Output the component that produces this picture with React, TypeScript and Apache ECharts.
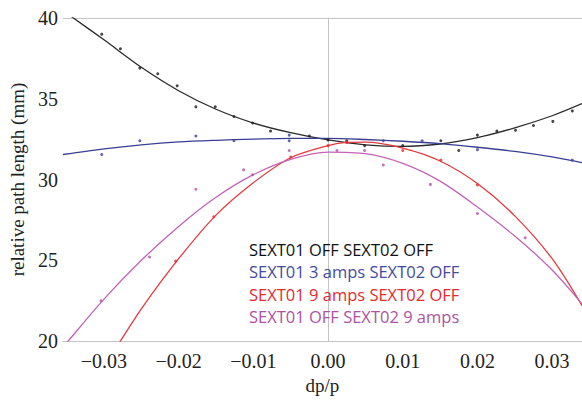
import React, { useEffect, useRef } from "react";
import * as echarts from "echarts";

const seriesNames = [
  "SEXT01 OFF SEXT02 OFF",
  "SEXT01 3 amps SEXT02 OFF",
  "SEXT01 9 amps SEXT02 OFF",
  "SEXT01 OFF SEXT02 9 amps",
];
const colors = ["#1a1a1a", "#3b3f98", "#e8282b", "#b24fa6"];
const textColors = ["#111111", "#454b9e", "#e52a2e", "#ad52a2"];
const lineColors = ["#2a2a2a", "#3a3e92", "#e5393b", "#c463b6"];

const xTicks = [-0.03, -0.02, -0.01, 0, 0.01, 0.02, 0.03];

// fitted curves
const fitBlack: [number, number][] = [
  [-0.0355, 40.47], [-0.0341, 40.0], [-0.03, 38.65], [-0.025, 36.95], [-0.02, 35.5],
  [-0.015, 34.35], [-0.01, 33.5], [-0.005, 32.9], [0, 32.45], [0.005, 32.15],
  [0.01, 32.05], [0.015, 32.2], [0.02, 32.6], [0.025, 33.2], [0.03, 33.95], [0.034, 34.7],
];
const fitBlue: [number, number][] = [
  [-0.0355, 31.55], [-0.03, 31.9], [-0.025, 32.15], [-0.02, 32.33], [-0.015, 32.43],
  [-0.01, 32.5], [-0.005, 32.55], [0, 32.55], [0.005, 32.48], [0.01, 32.37],
  [0.015, 32.22], [0.02, 32.0], [0.025, 31.74], [0.03, 31.4], [0.034, 31.05],
];
const fitRed: [number, number][] = [
  [-0.0285, 19.5], [-0.0278, 20.0], [-0.025, 22.0], [-0.02, 25.1], [-0.015, 27.8],
  [-0.01, 29.8], [-0.005, 31.35], [0, 32.1], [0.0025, 32.3], [0.005, 32.32],
  [0.01, 31.95], [0.015, 31.15], [0.02, 29.75], [0.025, 27.75], [0.03, 25.1], [0.034, 22.2],
];
const fitMagenta: [number, number][] = [
  [-0.0355, 19.6], [-0.0348, 20.0], [-0.03, 22.6], [-0.025, 25.0], [-0.02, 27.1],
  [-0.015, 28.9], [-0.01, 30.3], [-0.005, 31.25], [0, 31.7], [0.005, 31.6],
  [0.01, 31.0], [0.015, 29.9], [0.02, 28.3], [0.025, 26.5], [0.03, 24.4], [0.034, 22.3],
];

// measured points
const ptsBlack: [number, number][] = [
  [-0.0303, 39.0], [-0.0278, 38.1], [-0.0252, 36.9], [-0.0228, 36.55], [-0.0202, 35.8],
  [-0.0177, 34.5], [-0.0151, 34.5], [-0.0126, 33.9], [-0.0101, 33.5], [-0.0077, 33.0],
  [-0.0025, 32.7], [0, 32.45], [0.0025, 32.4], [0.0049, 32.1], [0.01, 32.1],
  [0.0151, 32.4], [0.0175, 31.8], [0.02, 32.75], [0.0226, 33.0], [0.0251, 33.05],
  [0.0275, 33.35], [0.0301, 33.6], [0.0327, 34.25],
];
const ptsBlue: [number, number][] = [
  [-0.0303, 31.55], [-0.0252, 32.4], [-0.0177, 32.7], [-0.0126, 32.4], [-0.0052, 32.75],
  [-0.0052, 32.4], [0.0074, 32.4], [0.0126, 32.4], [0.02, 31.85], [0.0327, 31.2],
];
const ptsRed: [number, number][] = [
  [-0.0204, 24.95], [-0.0153, 27.7], [-0.005, 31.4], [0, 32.1], [0.0025, 32.3],
  [0.01, 31.8], [0.0151, 31.2], [0.02, 29.67],
];
const ptsMagenta: [number, number][] = [
  [-0.0304, 22.5], [-0.0239, 25.2], [-0.0177, 29.4], [-0.0113, 30.6], [-0.0101, 30.3],
  [-0.0052, 31.8], [0.0012, 31.8], [0.0049, 31.8], [0.0074, 30.9], [0.0137, 29.7],
  [0.02, 27.9], [0.0264, 26.4],
];

const fits = [fitBlack, fitBlue, fitRed, fitMagenta];
const pts = [ptsBlack, ptsBlue, ptsRed, ptsMagenta];

const fmt = (v: number) => (v < 0 ? "\u2212" : "") + Math.abs(v).toFixed(2);

export default function App() {
  const ref = useRef<HTMLDivElement>(null);
  useEffect(() => {
    if (!ref.current) return;
    const chart = echarts.init(ref.current, undefined, { renderer: "svg" });
    const series: any[] = [];
    seriesNames.forEach((name, i) => {
      series.push({
        name,
        type: "line",
        data: fits[i],
        smooth: 0.3,
        showSymbol: false,
        clip: true,
        lineStyle: { color: lineColors[i], width: 1.3 },
        itemStyle: { color: colors[i] },
        z: 3,
        ...(i === 0
          ? {
              markLine: {
                silent: true,
                symbol: "none",
                label: { show: false },
                lineStyle: { color: "#c4c4c4", width: 1, type: "solid" },
                data: [{ xAxis: 0 }, { yAxis: 40 }],
                z: 1,
              },
            }
          : {}),
      });
      series.push({
        name,
        type: "scatter",
        data: pts[i],
        symbolSize: 3,
        itemStyle: { color: colors[i] },
        z: 4,
      });
    });
    chart.setOption({
      animation: false,
      backgroundColor: "#ffffff",
      grid: { left: 60, right: 0, top: 18, bottom: 51, containLabel: false },
      legend: {
        orient: "vertical",
        left: 239,
        top: 234,
        itemWidth: 0,
        itemHeight: 0,
        itemGap: 2,
        icon: "rect",
        selectedMode: false,
        textStyle: { fontFamily: "Open Sans", fontSize: 16.5, lineHeight: 20.5 },
        data: seriesNames.map((n, i) => ({ name: n, textStyle: { color: textColors[i] } })),
      },
      xAxis: {
        type: "value",
        min: -0.0355,
        max: 0.034,
        name: "dp/p",
        nameLocation: "middle",
        nameGap: 29,
        nameTextStyle: { fontFamily: "Liberation Serif", fontSize: 19, color: "#222" },
        axisLine: { show: true, onZero: false, lineStyle: { color: "#c4c4c4", width: 1 } },
        axisTick: { show: false },
        splitLine: { show: false },
        axisLabel: {
          customValues: xTicks,
          formatter: fmt,
          fontFamily: "Liberation Serif",
          fontSize: 20,
          color: "#222",
          margin: 10,
        },
      },
      yAxis: {
        type: "value",
        min: 20,
        max: 40,
        interval: 5,
        name: "relative path length (mm)",
        nameLocation: "middle",
        nameGap: 35,
        nameRotate: 90,
        nameTextStyle: { fontFamily: "Liberation Serif", fontSize: 19, color: "#222" },
        axisLine: { show: true, lineStyle: { color: "#c4c4c4", width: 1 } },
        axisTick: { show: false },
        splitLine: { show: false },
        axisLabel: {
          fontFamily: "Liberation Serif",
          fontSize: 20,
          color: "#222",
          margin: 5,
        },
      },
      series,
    });
    return () => chart.dispose();
  }, []);
  return <div ref={ref} style={{ width: 582, height: 400, position: "absolute", left: 0, top: 0 }} />;
}
